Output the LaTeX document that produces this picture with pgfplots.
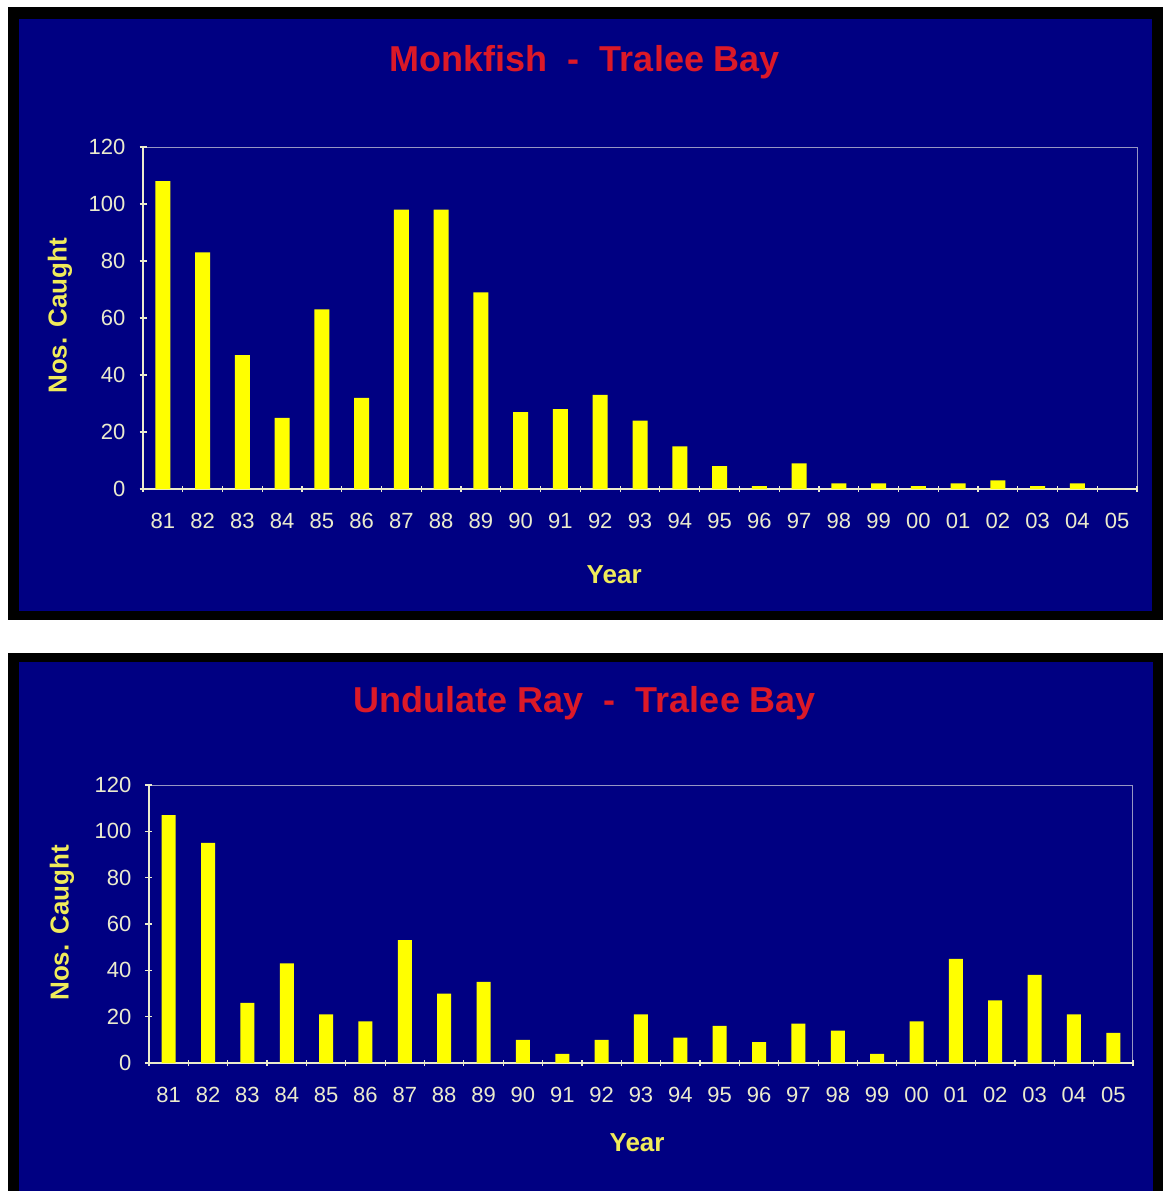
\documentclass[border=0pt]{standalone}
\usepackage{fontspec}
\setmainfont{Liberation Sans}
\usepackage{pgfplots}
\pgfplotsset{compat=1.18}

\definecolor{panelnavy}{RGB}{0,0,130}
\definecolor{baryellow}{RGB}{255,255,0}
\definecolor{titlered}{RGB}{220,25,40}
\definecolor{labelyellow}{RGB}{240,235,90}
\definecolor{cream}{RGB}{235,235,205}
\definecolor{boxgray}{RGB}{150,150,195}

\pgfplotsset{
  fishchart/.style={
    scale only axis,
    anchor=south west,
    xmin=-0.5, xmax=24.5,
    ymin=0, ymax=120,
    ytick={0,20,...,120},
    xtick={0,...,24},
    xticklabels={81,82,83,84,85,86,87,88,89,90,91,92,93,94,95,96,97,98,99,00,01,02,03,04,05},
    minor xtick={-0.5,0.5,...,24.5},
    major x tick style={draw=none},
    tick align=outside,
    major tick length=3.5pt,
    minor tick length=3pt,
    tick style={cream, line width=0.6pt},
    axis lines=left,
    axis line style={-, cream, line width=0.6pt},
    axis background/.style={draw=boxgray, line width=0.5pt},
    ticklabel style={font=\fontsize{11}{13}\selectfont, text=cream},
    /pgf/number format/assume math mode=true,
    label style={font=\bfseries\fontsize{13}{15}\selectfont, text=labelyellow},
    ylabel={Nos. Caught},
    xlabel={Year},
    xticklabel style={anchor=base, yshift=-18pt},
    yticklabel style={anchor=east, xshift=-3.5pt},
  },
  catchbar/.style={ybar, bar width=7.5pt, fill=baryellow, draw=none},
}

\begin{document}
\begin{tikzpicture}
\useasboundingbox (0,0) rectangle (581.5pt,-595.5pt);
\fill[white] (0,0) rectangle (581.5pt,-595.5pt);
% top panel
\fill[black] (4pt,-3.5pt) rectangle (581.5pt,-310pt);
\fill[panelnavy] (9.5pt,-9.5pt) rectangle (576pt,-305.5pt);
% bottom panel
\fill[black] (4pt,-326.5pt) rectangle (581.5pt,-595.5pt);
\fill[panelnavy] (9.5pt,-331pt) rectangle (576.5pt,-595.5pt);

\node[font=\bfseries\fontsize{18}{20}\selectfont, text=titlered] at (292.5pt,-31pt) {Monkfish\ \ -\ \ Tralee Bay};
\node[font=\bfseries\fontsize{18}{20}\selectfont, text=titlered] at (292.5pt,-351.5pt) {Undulate Ray\ \ -\ \ Tralee Bay};

\begin{axis}[fishchart,
  at={(71.5pt,-244.5pt)}, width=497pt, height=171pt,
  xlabel style={at={(axis description cs:0.474,-0.2515)}, anchor=center},
  ylabel style={at={(axis description cs:-0.0835,0.506)}, anchor=center, rotate=0},
]
\addplot[catchbar] coordinates {
  (0,108) (1,83) (2,47) (3,25) (4,63) (5,32) (6,98) (7,98) (8,69) (9,27)
  (10,28) (11,33) (12,24) (13,15) (14,8) (15,1) (16,9) (17,2) (18,2) (19,1)
  (20,2) (21,3) (22,1) (23,2) (24,0)
};
\end{axis}

\begin{axis}[fishchart,
  at={(74.5pt,-531.5pt)}, width=492pt, height=139pt,
  xlabel style={at={(axis description cs:0.496,-0.288)}, anchor=center},
  ylabel style={at={(axis description cs:-0.0884,0.504)}, anchor=center, rotate=0},
]
\addplot[catchbar, bar width=7pt] coordinates {
  (0,107) (1,95) (2,26) (3,43) (4,21) (5,18) (6,53) (7,30) (8,35) (9,10)
  (10,4) (11,10) (12,21) (13,11) (14,16) (15,9) (16,17) (17,14) (18,4) (19,18)
  (20,45) (21,27) (22,38) (23,21) (24,13)
};
\end{axis}
\end{tikzpicture}
\end{document}
